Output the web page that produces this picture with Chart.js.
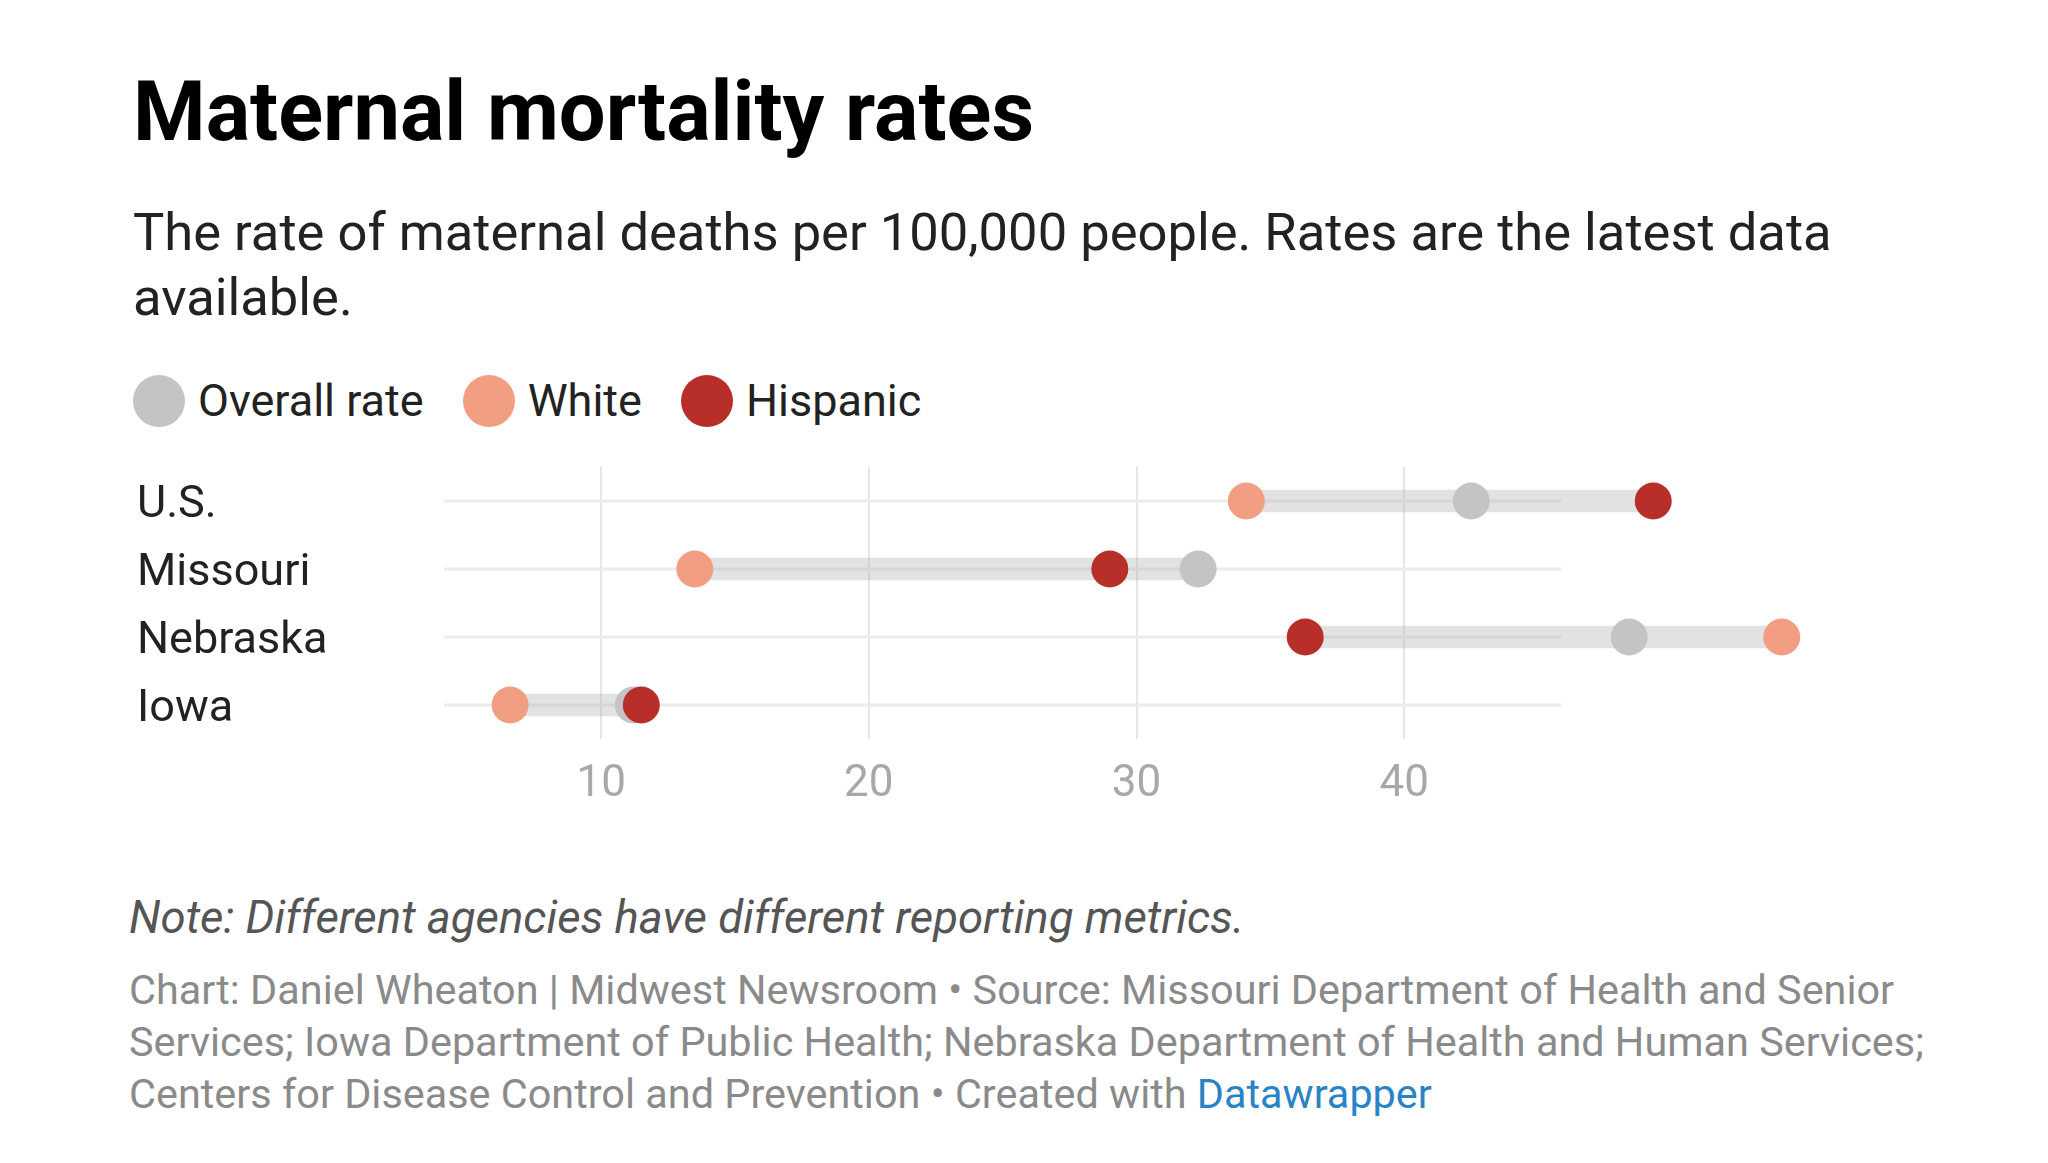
<!DOCTYPE html>
<html>
<head>
<meta charset="utf-8">
<title>Maternal mortality rates</title>
<script src="https://cdn.jsdelivr.net/npm/chart.js@4.4.1/dist/chart.umd.min.js"></script>
<style>
  html, body { margin: 0; padding: 0; background: #fff; width: 2048px; height: 1163px; overflow: hidden; }
  body { font-family: Roboto, "Noto Sans", sans-serif; position: relative; }
  .abs { position: absolute; left: 133px; white-space: nowrap; }
  #title { top: 70px; font-size: 83px; line-height: 84px; font-weight: 700; color: #000; }
  #subtitle { top: 200px; font-size: 52.5px; line-height: 65px; color: #222; }
  #legend { top: 375px; display: flex; align-items: center; font-size: 45px; line-height: 52px; color: #222; }
  #legend .item { display: flex; align-items: center; margin-right: 39px; }
  #legend .dot { width: 52px; height: 52px; border-radius: 50%; margin-right: 13px; }
  #chartBox { position: absolute; left: 0; top: 440px; width: 2048px; height: 380px; }
  #note { left: 129px; top: 892px; font-size: 45.5px; line-height: 52px; font-style: italic; color: #555; }
  #credits { left: 129px; top: 964px; font-size: 41.4px; line-height: 52px; color: #8a8a8a; }
  #credits a { color: #2a83c5; text-decoration: none; }
</style>
</head>
<body>
<div id="title" class="abs">Maternal mortality rates</div>
<div id="subtitle" class="abs">The rate of maternal deaths per 100,000 people. Rates are the latest data<br>available.</div>
<div id="legend" class="abs"></div>
<div id="chartBox"><canvas id="chart"></canvas></div>
<div id="note" class="abs">Note: Different agencies have different reporting metrics.</div>
<div id="credits" class="abs">Chart: Daniel Wheaton | Midwest Newsroom • Source: Missouri Department of Health and Senior<br>Services; Iowa Department of Public Health; Nebraska Department of Health and Human Services;<br>Centers for Disease Control and Prevention • Created with <a href="#">Datawrapper</a></div>

<script>
// Data (maternal deaths per 100,000)
const rows = ['U.S.', 'Missouri', 'Nebraska', 'Iowa']
const overallRate = [42.5, 32.3, 48.4, 11.2]
const whiteRate = [34.1, 13.5, 54.1, 6.6]
const hispanicRate = [49.3, 29.0, 36.3, 11.5]
const xTicks = [10, 20, 30, 40]

// axis extent: the row lines stop at gridMax, dots may go past it
const gridMin = 4.13
const gridMax = 45.87
const xMax = 56

const series = [
    { name: 'Overall rate', data: overallRate, color: '#c4c4c4' },
    { name: 'White', data: whiteRate, color: '#f29e82' },
    { name: 'Hispanic', data: hispanicRate, color: '#b72f28' }
]

// HTML legend, same as datawrapper
const legend = document.getElementById('legend')
series.forEach(s => {
    const item = document.createElement('div')
    item.className = 'item'
    item.innerHTML = '<span class="dot" style="background:' + s.color + '"></span><span>' + s.name + '</span>'
    legend.appendChild(item)
})

// range bar behind the dots: from lowest to highest value of each row
const ranges = rows.map((r, i) => {
    const vals = series.map(s => s.data[i])
    return [Math.min(...vals), Math.max(...vals)]
})

// row lines drawn from gridMin to gridMax (shorter than the chart area)
const rowLines = {
    id: 'rowLines',
    beforeDatasetsDraw(chart) {
        const ctx = chart.ctx
        const x = chart.scales.x
        const y = chart.scales.y
        ctx.save()
        ctx.strokeStyle = '#ececec'
        ctx.lineWidth = 3
        rows.forEach((r, i) => {
            const py = y.getPixelForValue(i)
            ctx.beginPath()
            ctx.moveTo(x.getPixelForValue(gridMin), py)
            ctx.lineTo(x.getPixelForValue(gridMax), py)
            ctx.stroke()
        })
        ctx.restore()
    }
}

const dotSets = series.map((s, i) => ({
    type: 'line',
    label: s.name,
    data: s.data,
    showLine: false,
    pointRadius: 18.5,
    pointHoverRadius: 18.5,
    pointBorderWidth: 0,
    pointBackgroundColor: s.color,
    backgroundColor: s.color,
    clip: false,
    order: 3 - i
}))

const chart = new Chart(document.getElementById('chart'), {
    type: 'bar',
    data: {
        labels: rows,
        datasets: [{
            label: 'range',
            data: ranges,
            backgroundColor: 'rgba(182,182,182,0.4)',
            borderWidth: 0,
            barThickness: 22,
            clip: false,
            order: 10
        }].concat(dotSets)
    },
    options: {
        indexAxis: 'y',
        responsive: true,
        maintainAspectRatio: false,
        animation: false,
        layout: { padding: { left: 137, right: 215.4, top: 27, bottom: 11 } },
        plugins: {
            legend: { display: false },
            tooltip: { enabled: false }
        },
        scales: {
            x: {
                type: 'linear',
                min: gridMin,
                max: xMax,
                afterBuildTicks: (axis) => { axis.ticks = xTicks.map(v => ({ value: v })) },
                afterFit: (axis) => { axis.height = 70 },
                border: { display: false },
                grid: { color: '#e6e6e6', lineWidth: 2, drawTicks: false },
                ticks: {
                    padding: 20,
                    color: '#a8a8a8',
                    font: { family: 'Roboto', size: 44 }
                }
            },
            y: {
                type: 'category',
                offset: true,
                afterFit: (axis) => { axis.width = 307 },
                border: { display: false },
                grid: { display: false },
                ticks: {
                    crossAlign: 'far',
                    padding: 0,
                    labelOffset: 5,
                    color: '#222',
                    font: { family: 'Roboto', size: 45 }
                }
            }
        }
    },
    plugins: [rowLines]
})
</script>
</body>
</html>
